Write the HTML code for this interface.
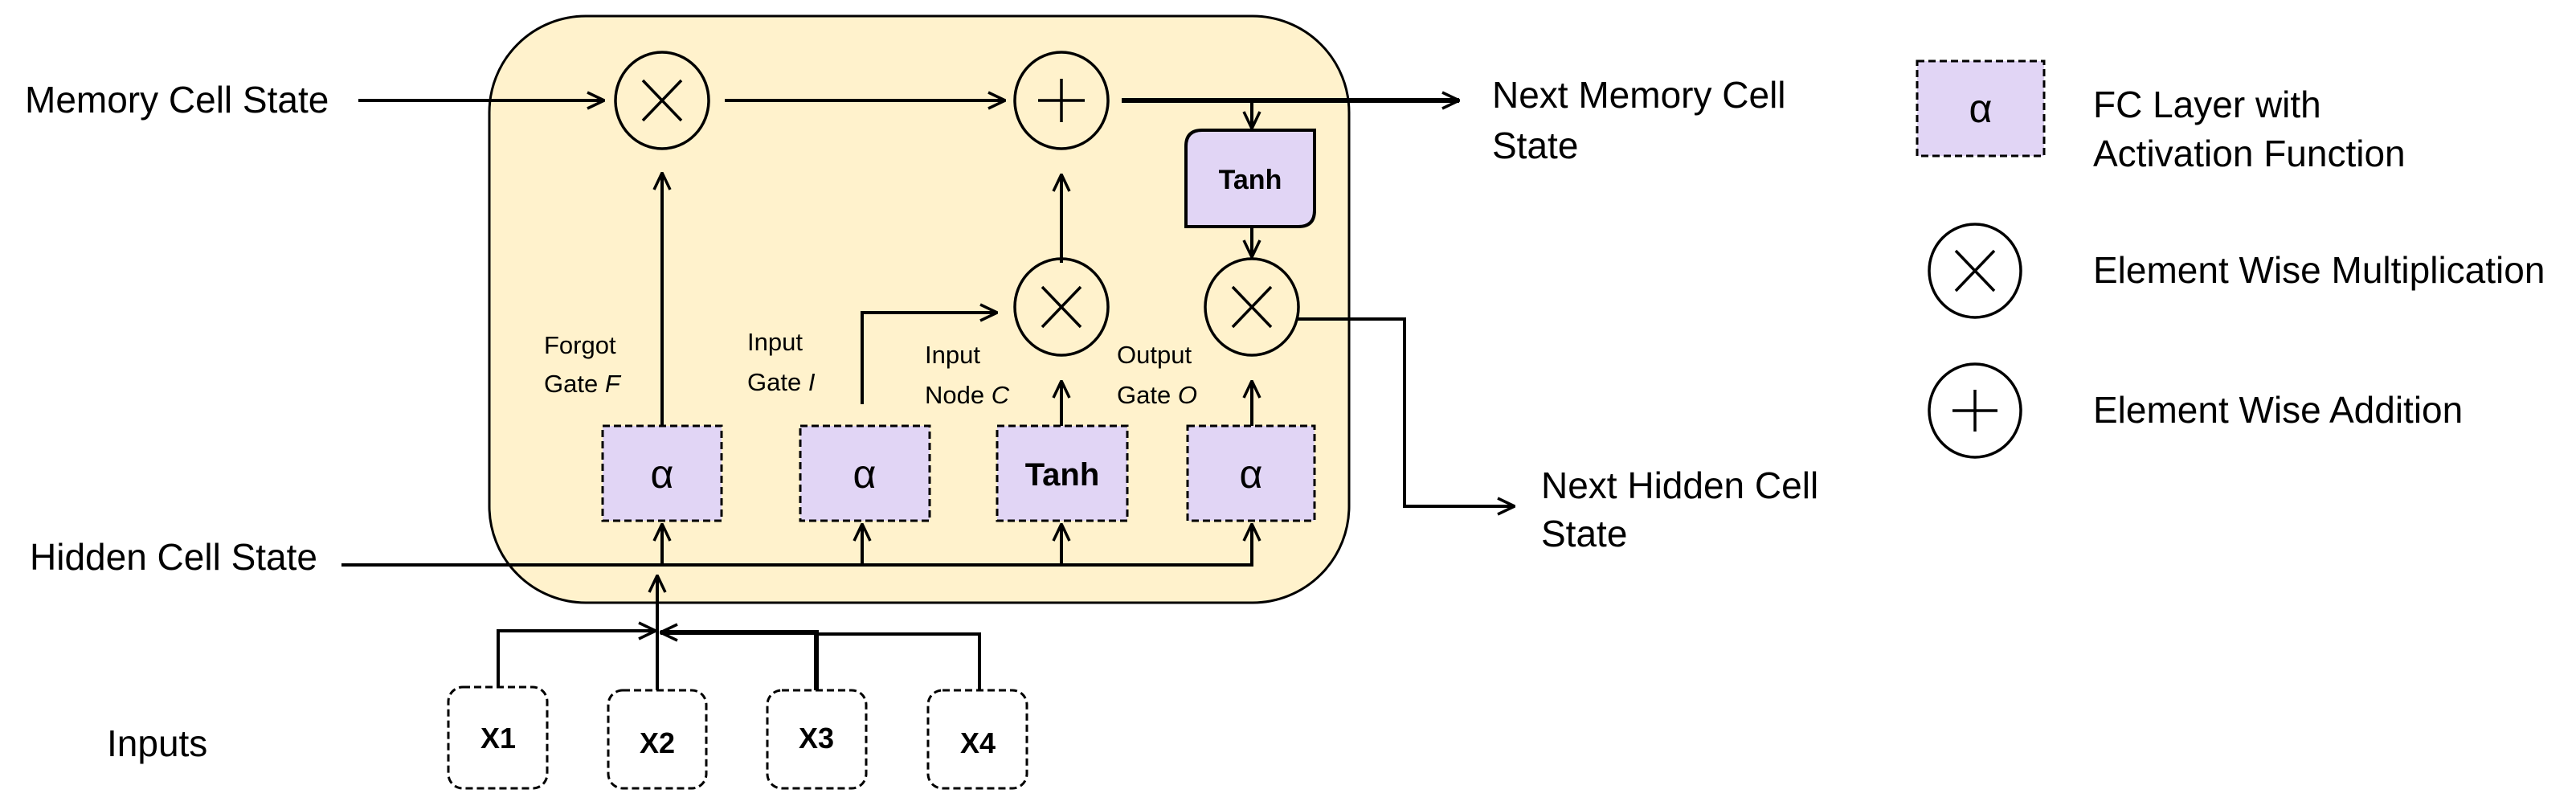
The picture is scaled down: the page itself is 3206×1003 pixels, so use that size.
<!DOCTYPE html>
<html><head><meta charset="utf-8"><style>
html,body{margin:0;padding:0;background:#fff}
svg{display:block}
text{font-family:"Liberation Sans",sans-serif;fill:#000}
</style></head><body>
<svg width="3206" height="1003" viewBox="0 0 3206 1003" xmlns="http://www.w3.org/2000/svg">
<defs>
<marker id="a" viewBox="0 0 24 24" refX="23" refY="12" markerWidth="24" markerHeight="24" markerUnits="userSpaceOnUse" orient="auto">
<polyline points="2,2 23,12 2,22" fill="none" stroke="#000" stroke-width="3.5"/>
</marker>
</defs>
<rect x="609" y="20" width="1070" height="730" rx="120" ry="120" fill="#fff2cc" stroke="#000" stroke-width="3"/>
<g stroke="#000" stroke-width="4" fill="none">
<line x1="446" y1="125" x2="752" y2="125" marker-end="url(#a)"/>
<line x1="902" y1="125" x2="1251" y2="125" marker-end="url(#a)"/>
<line x1="1396" y1="125" x2="1816" y2="125" stroke-width="6" marker-end="url(#a)"/>
<line x1="1558" y1="125" x2="1558" y2="160" marker-end="url(#a)"/>
<line x1="1558" y1="282" x2="1558" y2="320" marker-end="url(#a)"/>
<line x1="824" y1="530" x2="824" y2="215" marker-end="url(#a)"/>
<polyline points="1073,503 1073,389 1241,389" marker-end="url(#a)"/>
<line x1="1321" y1="530" x2="1321" y2="474" marker-end="url(#a)"/>
<line x1="1321" y1="327" x2="1321" y2="217" marker-end="url(#a)"/>
<line x1="1558" y1="530" x2="1558" y2="474" marker-end="url(#a)"/>
<polyline points="1615,397 1748,397 1748,630 1885,630" marker-end="url(#a)"/>
<polyline points="425,703 1558,703 1558,652" marker-end="url(#a)"/>
<line x1="824" y1="703" x2="824" y2="652" marker-end="url(#a)"/>
<line x1="1073" y1="703" x2="1073" y2="652" marker-end="url(#a)"/>
<line x1="1321" y1="703" x2="1321" y2="652" marker-end="url(#a)"/>
<line x1="818" y1="859" x2="818" y2="716" marker-end="url(#a)"/>
<polyline points="620,855 620,785 816,785" marker-end="url(#a)"/>
<polyline points="1016,859 1016,787 822,787" stroke-width="6" marker-end="url(#a)"/>
<polyline points="1219,859 1219,789 1016,789"/>
</g>
<g stroke="#000" stroke-width="3.5" fill="none">
<ellipse cx="824" cy="125" rx="58" ry="60"/>
<path d="M800,100 L848,150 M848,100 L800,150"/>
<ellipse cx="1321" cy="125" rx="58" ry="60"/>
<path d="M1321,98 V152 M1292,125 H1350"/>
<ellipse cx="1321" cy="382" rx="58" ry="60"/>
<path d="M1297,357 L1345,407 M1345,357 L1297,407"/>
<ellipse cx="1558" cy="382" rx="58" ry="60"/>
<path d="M1534,357 L1582,407 M1582,357 L1534,407"/>
<ellipse cx="2458" cy="337" rx="57" ry="58"/>
<path d="M2434,312 L2482,362 M2482,312 L2434,362"/>
<ellipse cx="2458" cy="511" rx="57" ry="58"/>
<path d="M2458,485 V537 M2430,511 H2486"/>
</g>
<path d="M1496,162 H1636 V262 Q1636,282 1616,282 H1476 V182 Q1476,162 1496,162 Z" fill="#e1d5f5" stroke="#000" stroke-width="4"/>
<text x="1556" y="235" font-size="34" font-weight="bold" text-anchor="middle">Tanh</text>
<g fill="#e1d5f5" stroke="#000" stroke-width="3" stroke-dasharray="9,5">
<rect x="750" y="530" width="148" height="118"/>
<rect x="996" y="530" width="161" height="118"/>
<rect x="1241" y="530" width="162" height="118"/>
<rect x="1478" y="530" width="158" height="118"/>
<rect x="2386" y="76" width="158" height="118"/>
</g>
<g font-size="50" text-anchor="middle">
<text x="824" y="607">α</text>
<text x="1076" y="607">α</text>
<text x="1557" y="607">α</text>
<text x="2465" y="152">α</text>
</g>
<text x="1322" y="604" font-size="40" font-weight="bold" text-anchor="middle">Tanh</text>
<g fill="#fff" stroke="#000" stroke-width="3" stroke-dasharray="9,5">
<rect x="558" y="855" width="123" height="126" rx="18"/>
<rect x="757" y="859" width="122" height="122" rx="18"/>
<rect x="955" y="859" width="123" height="122" rx="18"/>
<rect x="1155" y="859" width="123" height="122" rx="18"/>
</g>
<g font-size="36" font-weight="bold" text-anchor="middle">
<text x="620" y="931">X1</text>
<text x="818" y="937">X2</text>
<text x="1016" y="931">X3</text>
<text x="1217" y="937">X4</text>
</g>
<g font-size="46">
<text x="31" y="140">Memory Cell State</text>
<text x="37" y="709">Hidden Cell State</text>
<text x="133" y="941">Inputs</text>
<text x="1857" y="134">Next Memory Cell</text>
<text x="1857" y="197">State</text>
<text x="1918" y="620">Next Hidden Cell</text>
<text x="1918" y="680">State</text>
<text x="2605" y="146">FC Layer with</text>
<text x="2605" y="207">Activation Function</text>
<text x="2605" y="352">Element Wise Multiplication</text>
<text x="2605" y="526">Element Wise Addition</text>
</g>
<g font-size="31">
<text x="677" y="440">Forgot</text>
<text x="677" y="488">Gate <tspan font-style="italic">F</tspan></text>
<text x="930" y="436">Input</text>
<text x="930" y="486">Gate <tspan font-style="italic">I</tspan></text>
<text x="1151" y="452">Input</text>
<text x="1151" y="502">Node <tspan font-style="italic">C</tspan></text>
<text x="1390" y="452">Output</text>
<text x="1390" y="502">Gate <tspan font-style="italic">O</tspan></text>
</g>
</svg>
</body></html>
